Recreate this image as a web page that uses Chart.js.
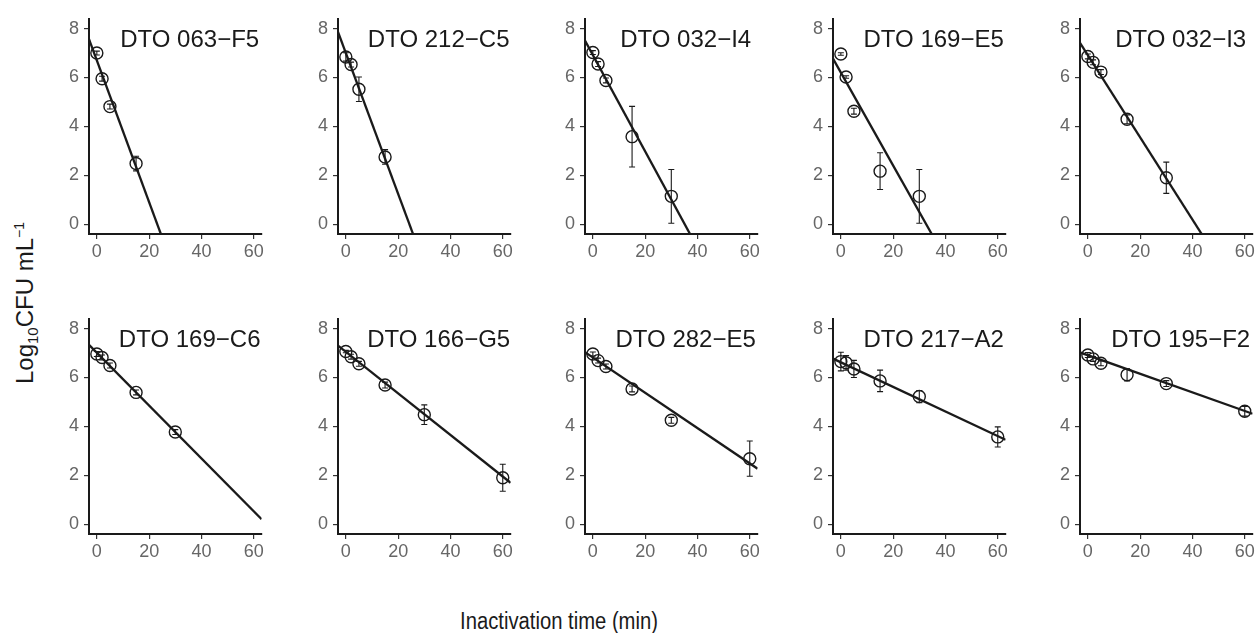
<!DOCTYPE html>
<html>
<head>
<meta charset="utf-8">
<script src="https://cdn.jsdelivr.net/npm/chart.js@4"></script>
<style>
  html, body { margin: 0; padding: 0; background: #fff; }
  #wrap { position: relative; width: 1257px; height: 633px; overflow: hidden; font-family: "Liberation Sans", Arial, sans-serif; }
  #wrap canvas { position: absolute; }
  #ytitle { position: absolute; left: 26px; top: 303px; transform: translate(-50%, -50%) rotate(-90deg); font-size: 24px; color: #1a1a1a; white-space: nowrap; }
  #ytitle sub { font-size: 15px; }
  #ytitle sup { font-size: 14px; }
  #xtitle { position: absolute; left: 559px; top: 621px; transform: translate(-50%, -50%) scaleX(0.88); font-size: 23px; color: #1a1a1a; white-space: nowrap; }
</style>
</head>
<body>
<div id="wrap">
  <div id="ytitle">Log<sub>10</sub>CFU mL<sup>−1</sup></div>
  <div id="xtitle">Inactivation time (min)</div>
</div>
<script>
// strains, one panel each
const strains = ['DTO 063−F5', 'DTO 212−C5', 'DTO 032−I4', 'DTO 169−E5', 'DTO 032−I3',
                 'DTO 169−C6', 'DTO 166−G5', 'DTO 282−E5', 'DTO 217−A2', 'DTO 195−F2'];
const times = [0, 2, 5, 15, 30, 60];

// mean log10 CFU/mL per time point (null = not measured)
const logMeans = [
  [7.00, 5.95, 4.81, 2.48, null, null],
  [6.84, 6.53, 5.52, 2.75, null, null],
  [7.02, 6.55, 5.88, 3.58, 1.14, null],
  [6.96, 6.02, 4.62, 2.17, 1.14, null],
  [6.86, 6.62, 6.22, 4.29, 1.90, null],
  [6.96, 6.82, 6.49, 5.39, 3.77, null],
  [7.06, 6.85, 6.56, 5.69, 4.48, 1.90],
  [6.96, 6.69, 6.45, 5.53, 4.25, 2.68],
  [6.65, 6.60, 6.35, 5.86, 5.22, 3.57],
  [6.92, 6.76, 6.58, 6.11, 5.75, 4.62]
];
// standard deviations
const logSds = [
  [0.08, 0.10, 0.10, 0.30, null, null],
  [0.17, 0.10, 0.50, 0.30, null, null],
  [0.08, 0.10, 0.10, 1.24, 1.10, null],
  [0.05, 0.05, 0.12, 0.75, 1.10, null],
  [0.10, 0.10, 0.10, 0.18, 0.64, null],
  [0.10, 0.10, 0.10, 0.10, 0.10, null],
  [0.05, 0.10, 0.10, 0.12, 0.40, 0.55],
  [0.08, 0.10, 0.10, 0.12, 0.12, 0.72],
  [0.38, 0.30, 0.35, 0.44, 0.25, 0.41],
  [0.10, 0.10, 0.10, 0.25, 0.12, 0.20]
];
// fitted log-linear inactivation lines
const fitIntercepts = [6.70, 7.00, 6.92, 6.20, 6.91, 7.01, 7.05, 6.82, 6.62, 6.91];
const fitSlopes = [-0.290, -0.288, -0.197, -0.190, -0.168, -0.108, -0.085, -0.0722, -0.0503, -0.038];

const xTicks = [0, 20, 40, 60];
const yTicks = [0, 2, 4, 6, 8];
const xRange = [-3, 63];
const yRange = [-0.4, 8.4];

const FONT = '"Liberation Sans", Arial, sans-serif';
const INK = '#1a1a1a';

// error bars drawn through the scales
const errorBars = {
  id: 'errorBars',
  afterDatasetsDraw(chart, args, opts) {
    const { ctx, scales: { x, y } } = chart;
    const means = opts.means, sds = opts.sds;
    ctx.save();
    ctx.strokeStyle = INK;
    ctx.lineWidth = 1.1;
    times.forEach((t, i) => {
      if (means[i] == null || sds[i] == null) return;
      const px = x.getPixelForValue(t);
      const top = y.getPixelForValue(means[i] + sds[i]);
      const bot = y.getPixelForValue(means[i] - sds[i]);
      ctx.beginPath();
      ctx.moveTo(px, top); ctx.lineTo(px, bot);
      ctx.moveTo(px - 3, top); ctx.lineTo(px + 3, top);
      ctx.moveTo(px - 3, bot); ctx.lineTo(px + 3, bot);
      ctx.stroke();
    });
    ctx.restore();
  }
};

const panelTitle = {
  id: 'panelTitle',
  afterDraw(chart, args, opts) {
    const { ctx, scales: { x, y } } = chart;
    ctx.save();
    ctx.font = '24px ' + FONT;
    ctx.fillStyle = INK;
    ctx.textAlign = 'center';
    ctx.textBaseline = 'middle';
    ctx.fillText(opts.text, x.getPixelForValue(35.5), y.getPixelForValue(7.5));
    ctx.restore();
  }
};

const wrap = document.getElementById('wrap');
const colAxisX = [89, 338, 585, 833, 1080];
const rowTop = [15, 315];
const plotW = 174, plotH = 219;
const padL = 40, padT = 12, padR = 6, padB = 40;

strains.forEach((name, k) => {
  const col = k % 5, row = Math.floor(k / 5);
  const cv = document.createElement('canvas');
  const w = padL + plotW + padR, h = padT + plotH + padB;
  cv.width = w; cv.height = h;
  cv.style.width = w + 'px'; cv.style.height = h + 'px';
  cv.style.left = (colAxisX[col] - padL) + 'px';
  cv.style.top = (rowTop[row] - padT) + 'px';
  wrap.appendChild(cv);

  const pts = [];
  times.forEach((t, i) => { if (logMeans[k][i] != null) pts.push({ x: t, y: logMeans[k][i] }); });
  const a = fitIntercepts[k], b = fitSlopes[k];
  const fit = xRange.map(t => ({ x: t, y: a + b * t }));

  new Chart(cv.getContext('2d'), {
    type: 'scatter',
    data: {
      datasets: [
        {
          type: 'line',
          data: fit,
          borderColor: INK,
          borderWidth: 2.3,
          pointRadius: 0,
          fill: false
        },
        {
          data: pts,
          pointStyle: 'circle',
          pointRadius: 6,
          pointBorderWidth: 1.4,
          pointBorderColor: INK,
          pointBackgroundColor: 'rgba(0,0,0,0)'
        }
      ]
    },
    options: {
      responsive: false,
      animation: false,
      events: [],
      layout: { padding: { top: padT, right: padR, left: 0, bottom: 0 } },
      plugins: {
        legend: { display: false },
        tooltip: { enabled: false },
        errorBars: { means: logMeans[k], sds: logSds[k] },
        panelTitle: { text: name }
      },
      scales: {
        x: {
          type: 'linear',
          min: xRange[0], max: xRange[1],
          afterBuildTicks: s => { s.ticks = xTicks.map(v => ({ value: v })); },
          afterFit: s => { s.height = padB; },
          grid: { drawOnChartArea: false, drawTicks: true, tickLength: 5, color: '#333', lineWidth: 1.2 },
          border: { display: true, color: INK, width: 2 },
          ticks: { color: '#666', font: { size: 18, family: FONT }, padding: 2, maxRotation: 0 }
        },
        y: {
          type: 'linear',
          min: yRange[0], max: yRange[1],
          afterBuildTicks: s => { s.ticks = yTicks.map(v => ({ value: v })); },
          afterFit: s => { s.width = padL; },
          grid: { drawOnChartArea: false, drawTicks: true, tickLength: 5, color: '#333', lineWidth: 1.2 },
          border: { display: true, color: INK, width: 2 },
          ticks: { color: '#666', font: { size: 18, family: FONT }, padding: 5 }
        }
      }
    },
    plugins: [errorBars, panelTitle]
  });
});
</script>
</body>
</html>
